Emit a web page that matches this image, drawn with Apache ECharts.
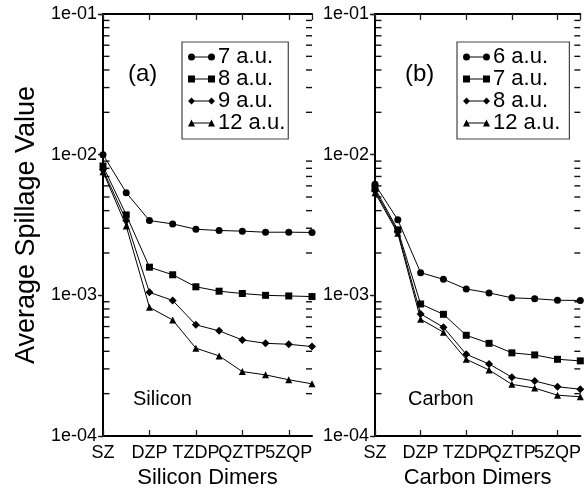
<!DOCTYPE html>
<html>
<head>
<meta charset="utf-8">
<script src="https://cdn.jsdelivr.net/npm/echarts@6/dist/echarts.min.js"></script>
<style>html,body{margin:0;padding:0;background:#fff;}#c{width:584px;height:495px;}</style>
</head>
<body>
<div id="c"></div>
<script>
// ---- data ----
var xTickLabels = ['SZ', 'DZP', 'TZDP', 'QZTP', '5ZQP']; // labels at positions 0,2,4,6,8
var yTickLabels = ['1e-04', '1e-03', '1e-02', '1e-01'];
var siliconNames = ['7 a.u.', '8 a.u.', '9 a.u.', '12 a.u.'];
var carbonNames = ['6 a.u.', '7 a.u.', '8 a.u.', '12 a.u.'];
var si7  = [1.0e-2, 5.37e-3, 3.40e-3, 3.22e-3, 2.95e-3, 2.89e-3, 2.86e-3, 2.81e-3, 2.81e-3, 2.80e-3];
var si8  = [8.3e-3, 3.73e-3, 1.585e-3, 1.40e-3, 1.15e-3, 1.07e-3, 1.03e-3, 1.0e-3, 9.9e-4, 9.8e-4];
var si9  = [7.8e-3, 3.40e-3, 1.05e-3, 9.2e-4, 6.17e-4, 5.59e-4, 4.82e-4, 4.56e-4, 4.49e-4, 4.32e-4];
var si12 = [7.57e-3, 3.11e-3, 8.22e-4, 6.68e-4, 4.21e-4, 3.71e-4, 2.87e-4, 2.72e-4, 2.51e-4, 2.35e-4];
var c6   = [6.15e-3, 3.44e-3, 1.45e-3, 1.30e-3, 1.11e-3, 1.04e-3, 9.6e-4, 9.47e-4, 9.22e-4, 9.2e-4];
var c7   = [5.76e-3, 2.92e-3, 8.68e-4, 7.33e-4, 5.2e-4, 4.56e-4, 3.90e-4, 3.77e-4, 3.51e-4, 3.42e-4];
var c8   = [5.55e-3, 2.84e-3, 7.38e-4, 5.93e-4, 3.81e-4, 3.25e-4, 2.62e-4, 2.46e-4, 2.24e-4, 2.15e-4];
var c12  = [5.37e-3, 2.76e-3, 6.76e-4, 5.47e-4, 3.51e-4, 2.95e-4, 2.33e-4, 2.19e-4, 1.95e-4, 1.90e-4];
var yMinorTicks = [];
[1e-4, 1e-3, 1e-2].forEach(function (d) { for (var k = 2; k <= 9; k++) yMinorTicks.push(d * k); });

// ---- styling ----
var FONT = '"Liberation Sans", Arial, Helvetica, sans-serif';
var symbols = ['circle', 'rect', 'diamond', 'triangle'];
var legendIcons = [
  'path://M0,3.5 A3.5,3.5 0 1 1 7,3.5 A3.5,3.5 0 1 1 0,3.5 Z M20,3.5 A3.5,3.5 0 1 1 27,3.5 A3.5,3.5 0 1 1 20,3.5 Z M3.5,3 L23.5,3 L23.5,4 L3.5,4 Z',
  'path://M0,0 L7,0 L7,7 L0,7 Z M20,0 L27,0 L27,7 L20,7 Z M3.5,3 L23.5,3 L23.5,4 L3.5,4 Z',
  'path://M3.5,0 L7,3.5 L3.5,7 L0,3.5 Z M23.5,0 L27,3.5 L23.5,7 L20,3.5 Z M3.5,3 L23.5,3 L23.5,4 L3.5,4 Z',
  'path://M3.5,0 L7,7 L0,7 Z M23.5,0 L27,7 L20,7 Z M3.5,3 L23.5,3 L23.5,4 L3.5,4 Z'
];

function toPairs(arr) { return arr.map(function (v, i) { return [i, v]; }); }

function lineSeries(name, arr, gi, si) {
  return {
    type: 'line', name: name, xAxisIndex: gi * 2, yAxisIndex: gi * 2,
    data: toPairs(arr), symbol: symbols[si], symbolSize: si === 2 ? 8 : 7,
    clip: false, animation: false, z: 5,
    lineStyle: { color: '#000', width: 1 }, itemStyle: { color: '#000' }
  };
}

// minor ticks drawn as tiny marks positioned through the log axis
function minorSeries(gi, xPos, offset) {
  return {
    type: 'scatter', xAxisIndex: gi * 2, yAxisIndex: gi * 2, silent: true, clip: false,
    animation: false, z: 10,
    data: yMinorTicks.map(function (v) { return [xPos, v]; }),
    symbol: 'rect', symbolSize: [6, 1.4], symbolOffset: [offset, 0],
    itemStyle: { color: '#111', opacity: 1 }
  };
}

function xAxes(gi, name) {
  var base = { gridIndex: gi, type: 'value', min: 0, max: 9, interval: 2, splitLine: { show: false } };
  return [
    Object.assign({}, base, {
      position: 'bottom',
      axisLine: { show: true, lineStyle: { color: '#000', width: 2 } },
      axisTick: { show: true, inside: true, length: 6, lineStyle: { color: '#222', width: 1.3 } },
      axisLabel: {
        color: '#000', fontFamily: FONT, fontSize: 18, margin: 8, showMaxLabel: false,
        formatter: function (v) { return (v % 2 === 0 && xTickLabels[v / 2]) ? xTickLabels[v / 2] : ''; }
      },
      name: name, nameLocation: 'middle', nameGap: 31,
      nameTextStyle: { color: '#000', fontFamily: FONT, fontSize: 22 }
    }),
    Object.assign({}, base, {
      position: 'top',
      axisLine: { show: true, lineStyle: { color: '#000', width: 2 } },
      axisTick: { show: true, inside: true, length: 6, lineStyle: { color: '#222', width: 1.3 } },
      axisLabel: { show: false }
    })
  ];
}

function yAxes(gi, withName) {
  var base = { gridIndex: gi, type: 'log', logBase: 10, min: 1e-4, max: 1e-1, interval: 1, splitLine: { show: false } };
  var left = Object.assign({}, base, {
    position: 'left',
    axisLine: { show: true, lineStyle: { color: '#000', width: 2 } },
    axisTick: { show: true, inside: false, length: 4, lineStyle: { color: '#222', width: 1.3 } },
    axisLabel: {
      color: '#000', fontFamily: FONT, fontSize: 18, margin: 6,
      formatter: function (v) {
        var l = Math.log10(v), e = Math.round(l);
        return Math.abs(l - e) < 1e-6 ? (yTickLabels[e + 4] || '') : '';
      }
    }
  });
  if (withName) {
    left.name = 'Average Spillage Value';
    left.nameLocation = 'middle';
    left.nameGap = 63;
    left.nameTextStyle = { color: '#000', fontFamily: FONT, fontSize: 27 };
  }
  var right = Object.assign({}, base, {
    position: 'right',
    axisLine: { show: true, lineStyle: { color: '#000', width: 2 } },
    axisTick: { show: true, inside: true, length: 5, lineStyle: { color: '#222', width: 1.3 } },
    axisLabel: { show: false }
  });
  return [left, right];
}

function legendFor(names, left) {
  return {
    left: left, top: 42, orient: 'vertical', selectedMode: false,
    borderColor: '#444', borderWidth: 1.2, borderRadius: 0, padding: [4, 3, 5, 6],
    itemWidth: 27, itemHeight: 7, itemGap: 0,
    textStyle: { color: '#000', fontFamily: FONT, fontSize: 22, lineHeight: 21, padding: [0, 0, 0, -2] },
    data: names.map(function (n, i) { return { name: n, icon: legendIcons[i] }; })
  };
}

var series = [];
[si7, si8, si9, si12].forEach(function (arr, i) { series.push(lineSeries(siliconNames[i], arr, 0, i)); });
[c6, c7, c8, c12].forEach(function (arr, i) { series.push(lineSeries(carbonNames[i] + ' ', arr, 1, i)); });
series.push(minorSeries(0, 0, 3.5), minorSeries(0, 9, -3), minorSeries(1, 0, 3.5), minorSeries(1, 9, -3));

var cNamesLegend = carbonNames.map(function (n) { return n + ' '; });

var option = {
  backgroundColor: '#fff',
  animation: false,
  grid: [
    { left: 103, top: 14, width: 209, height: 422 },
    { left: 375, top: 14, width: 206, height: 422 }
  ],
  xAxis: xAxes(0, 'Silicon Dimers').concat(xAxes(1, 'Carbon Dimers')),
  yAxis: yAxes(0, true).concat(yAxes(1, false)),
  legend: [legendFor(siliconNames, 182), legendFor(cNamesLegend, 457)],
  graphic: [
    { type: 'text', left: 128, top: 62, style: { text: '(a)', fill: '#000', font: '24px ' + FONT } },
    { type: 'text', left: 405, top: 62, style: { text: '(b)', fill: '#000', font: '24px ' + FONT } },
    { type: 'text', left: 133, top: 389, style: { text: 'Silicon', fill: '#000', font: '20px ' + FONT } },
    { type: 'text', left: 408, top: 389, style: { text: 'Carbon', fill: '#000', font: '20px ' + FONT } }
  ],
  series: series
};
var chart = echarts.init(document.getElementById('c'), null, { renderer: 'canvas' });
chart.setOption(option);
</script>
</body>
</html>
